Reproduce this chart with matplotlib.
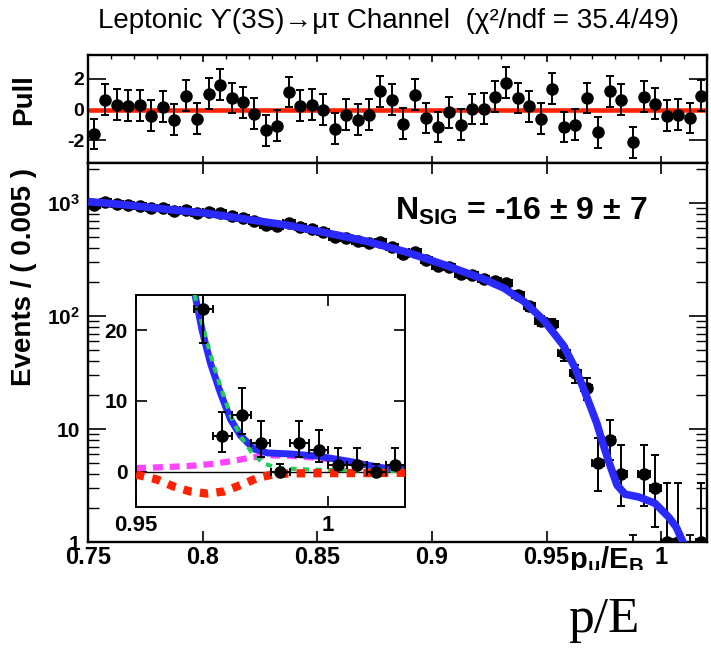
import numpy as np
import matplotlib
matplotlib.use('Agg')
import matplotlib.pyplot as plt
from matplotlib.patches import Rectangle
from matplotlib.ticker import FixedLocator, NullFormatter, MultipleLocator

plt.rcParams['font.family'] = ['Liberation Sans', 'DejaVu Sans']
plt.rcParams['mathtext.fontset'] = 'custom'
plt.rcParams['mathtext.rm'] = 'Liberation Sans:bold'
plt.rcParams['mathtext.bf'] = 'Liberation Sans:bold'
plt.rcParams['mathtext.it'] = 'Liberation Sans:bold'
plt.rcParams['axes.unicode_minus'] = False

# ---- data ----
bin_centers = np.round(0.7525 + 0.005 * np.arange(54), 4)

counts = np.array([969, 1019, 987, 966, 942, 898, 895, 848, 873, 811,
                   837, 824, 773, 739, 694, 643, 629, 660, 610, 585,
                   552, 498, 494, 463, 446, 450, 412, 356, 366, 311,
                   278, 271, 236, 232, 213, 203, 195, 155, 123, 91,
                   85, 47, 31, 23, 5, 8, 4, 0, 4, 3,
                   1, 1, 0, 1], dtype=float)

# poisson intervals of the low-count tail (bins 43..53)
tail_lo = [4.8, 2.16, 2.68, 1.91, 0.0, 1.91, 1.63, 0.83, 0.83, 0.0, 0.83]
tail_hi = [5.3, 3.38, 3.91, 3.16, 1.15, 3.16, 2.92, 2.30, 2.30, 1.15, 2.30]

pulls = [-1.58, 0.65, 0.33, 0.26, 0.28, -0.39, 0.20, -0.65, 0.91, -0.59,
         1.04, 1.63, 0.76, 0.48, -0.26, -1.35, -1.04, 1.15, 0.26, 0.33,
         0.00, -1.24, -0.33, -0.65, -0.33, 1.20, 0.65, -0.91, 0.98, -0.54,
         -1.13, -0.17, -0.98, 0.04, 0.07, 0.83, 1.74, 0.76, 0.22, -0.59,
         1.35, -1.13, -0.98, 0.76, -1.48, 1.20, 0.65, -2.13, 0.83, 0.39,
         -0.39, -0.33, -0.54, 0.91]

# total fit
fit_x = [0.7500, 0.7672, 0.7845, 0.8018, 0.8191, 0.8364, 0.8537, 0.8710, 0.8883,
         0.9056, 0.9229, 0.9315, 0.9402, 0.9487, 0.9573, 0.9620, 0.9650, 0.9672,
         0.9694, 0.9720, 0.9746, 0.9772, 0.9807, 0.9842, 0.9903, 0.9973, 1.0034,
         1.0066, 1.0095, 1.0147, 1.0200]
fit_y = [1030, 960, 879, 811, 718, 639, 546, 461, 371,
         283, 211, 176, 134, 92, 55, 36, 26, 20,
         15.3, 11.1, 7.4, 5.1, 3.2, 2.65, 2.5, 2.2, 1.65,
         1.35, 1.0, 0.5, 0.35]

# background component (inset)
bkg_x = [0.9630, 0.9650, 0.9672, 0.9694, 0.9720, 0.9746, 0.9772, 0.9800, 0.9830,
         0.9870, 0.9950, 1.0050, 1.0200]
bkg_y = [32, 25.5, 21, 16.5, 12, 8, 5, 2.8, 1.2, 0.5, 0.3, 0.2, 0.1]

# peaking component (inset, magenta)
peak_x = [0.950, 0.955, 0.960, 0.965, 0.970, 0.975, 0.980, 0.985, 0.990, 0.995,
          1.000, 1.005, 1.010, 1.015, 1.020]
peak_y = [0.5, 0.6, 0.7, 0.85, 1.1, 1.5, 2.0, 2.3, 2.25, 2.05, 1.8, 1.35, 0.8, 0.4, 0.25]

# signal component (inset, red)
sig_x = [0.9500, 0.9554, 0.9598, 0.9641, 0.9685, 0.9729, 0.9772, 0.9816, 0.9855,
         0.9900, 1.0000, 1.0100, 1.0200]
sig_y = [-0.4, -1.1, -2.1, -2.8, -3.1, -2.8, -1.9, -0.9, -0.4, -0.25, -0.2, -0.2, -0.15]

main_xticks = [0.75, 0.80, 0.85, 0.90, 0.95, 1.00]
main_xlabels = ['0.75', '0.8', '0.85', '0.9', '0.95', '1']

# ---- errors ----
err_lo = np.sqrt(counts)
err_hi = np.sqrt(counts)
err_lo[43:] = tail_lo
err_hi[43:] = tail_hi

W, H = 711, 649
fig = plt.figure(figsize=(W / 100, H / 100), dpi=100, facecolor='white')


def px_box(x0, y0, x1, y1):
    return [x0 / W, 1 - y1 / H, (x1 - x0) / W, (y1 - y0) / H]


def frame(ax, lw=1.5):
    for s in ax.spines.values():
        s.set_linewidth(lw)
        s.set_color('k')


blue = '#2a2aff'
pt = dict(fmt='o', ms=8, color='k', elinewidth=1.4, capsize=3, capthick=1.4)

# ---- pull panel ----
axp = fig.add_axes(px_box(88.3, 55, 707, 162.7))
axp.axhline(0, color='#ff2200', lw=3.3, zorder=2.5)
axp.errorbar(bin_centers, pulls, yerr=1.0, zorder=3, **pt)
axp.set_xlim(0.75, 1.02)
axp.set_ylim(-3.45, 3.55)
axp.set_yticks([-2, 0, 2])
axp.set_yticklabels(['-2', '0', '2'], fontsize=14, fontweight='bold')
axp.xaxis.set_major_locator(FixedLocator(main_xticks))
axp.xaxis.set_minor_locator(MultipleLocator(0.01))
axp.xaxis.set_major_formatter(NullFormatter())
axp.tick_params(axis='y', direction='in', length=13, width=1.2, left=True, right=True, pad=3)
axp.tick_params(axis='x', which='major', direction='in', length=5, width=1.2, top=True, bottom=True)
axp.tick_params(axis='x', which='minor', direction='in', length=3, width=1.0, top=True, bottom=False)
frame(axp, 1.7)

# ---- main panel ----
ax = fig.add_axes(px_box(88.3, 162.7, 707, 542))
pos = counts > 0
ax.errorbar(bin_centers[pos], counts[pos], xerr=0.0025,
            yerr=[err_lo[pos], err_hi[pos]], zorder=3, **pt)
zero = ~pos
ax.errorbar(bin_centers[zero], np.full(zero.sum(), 0.01),
            yerr=[np.zeros(zero.sum()), err_hi[zero]], fmt='none', ecolor='k',
            elinewidth=1.3, capsize=3, capthick=1.3, zorder=3)
ax.plot(fit_x, fit_y, color=blue, lw=5.5, solid_capstyle='butt', zorder=4)
ax.set_yscale('log')
ax.set_xlim(0.75, 1.02)
ax.set_ylim(1, 2275)
ax.set_yticks([1, 10, 100, 1000])
ax.set_yticklabels(['1', '10', r'$\mathbf{10^{2}}$', r'$\mathbf{10^{3}}$'],
                   fontsize=15, fontweight='bold')
ax.yaxis.set_minor_locator(FixedLocator([m * 10 ** e for e in range(0, 4) for m in range(2, 10)]))
ax.yaxis.set_minor_formatter(NullFormatter())
ax.set_xticks(main_xticks)
ax.set_xticklabels(main_xlabels, fontsize=17, fontweight='bold')
ax.tick_params(axis='y', which='major', direction='in', length=13, width=1.2, left=True, right=True, pad=6)
ax.tick_params(axis='y', which='minor', direction='in', length=8, width=1.0, left=True, right=True)
ax.tick_params(axis='x', which='major', direction='in', length=8, width=1.2, top=True, bottom=True, pad=3)
frame(ax, 1.7)

ax.text(0.70, 0.872, r'$\mathbf{N_{SIG}}$ = -16 $\pm$ 9 $\pm$ 7', transform=ax.transAxes,
        ha='center', va='center', fontsize=23, fontweight='bold')

# ---- inset ----
axi = fig.add_axes(px_box(136, 295, 405, 507))
axi.set_facecolor('white')
axi.axhline(0, color='k', lw=1.0, zorder=0.5)
axi.plot(peak_x, peak_y, color='#ff44ff', lw=4.5, linestyle=(0, (1.6, 1.1)), zorder=1)
axi.plot(fit_x, fit_y, color=blue, lw=5, zorder=2)
axi.plot(bkg_x, bkg_y, color='#22cc55', lw=3, linestyle=(0, (1.5, 1.5)), zorder=3)
axi.plot(sig_x, sig_y, color='#ff2200', lw=6, linestyle=(0, (1, 1)), zorder=4)
sel = bin_centers > 0.95
axi.errorbar(bin_centers[sel], counts[sel], xerr=0.0025,
             yerr=[err_lo[sel], err_hi[sel]], zorder=5, **pt)
axi.set_xlim(0.95, 1.02)
axi.set_ylim(-5, 25)
axi.set_xticks([0.95, 1.0])
axi.set_xticklabels(['0.95', '1'], fontsize=16, fontweight='bold')
axi.set_yticks([0, 10, 20])
axi.set_yticklabels(['0', '10', '20'], fontsize=15, fontweight='bold')
axi.tick_params(direction='in', length=8, width=1.2, top=True, right=True, pad=6)
frame(axi, 1.4)

# ---- texts ----
fig.text(389 / W, 1 - 21 / H, 'Leptonic \u03d2(3S)\u2192\u03bc\u03c4 Channel  (\u03c7\u00b2/ndf = 35.4/49)',
         ha='center', va='center', fontsize=20, family=['Liberation Sans', 'DejaVu Sans'])
fig.text(24 / W, 1 - 100 / H, 'Pull', rotation=90, ha='center', va='center',
         fontsize=20, fontweight='bold')
fig.text(24 / W, 1 - 168 / H, 'Events / ( 0.005 )', rotation=90, ha='center', va='top',
         fontsize=20, fontweight='bold')
fig.text(569 / W, 1 - 568 / H, r'$\mathbf{p_{\mu}/E_{B}}$', ha='left', va='baseline',
         fontsize=21, zorder=5)
fig.add_artist(Rectangle((0, 0), 1, 1 - 570 / H, transform=fig.transFigure,
                         facecolor='white', edgecolor='none', zorder=10))
fig.text(604 / W, 1 - 620 / H, 'p/E', ha='center', va='center', fontsize=37,
         family=['Liberation Serif', 'DejaVu Serif'], zorder=11)

fig.savefig('out.png', dpi=100, facecolor='white')
